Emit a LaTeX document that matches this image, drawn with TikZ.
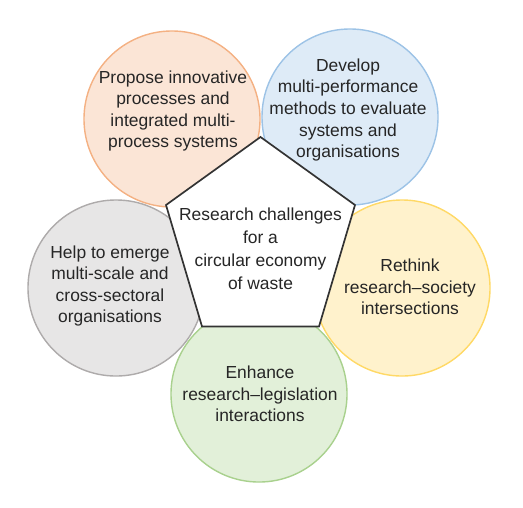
\documentclass[tikz,border=0pt]{standalone}
\usepackage{fontspec}
\setmainfont{Liberation Sans}
\definecolor{orangefill}{HTML}{FBE5D6}
\definecolor{orangeline}{HTML}{F4B183}
\definecolor{bluefill}{HTML}{DEEBF7}
\definecolor{blueline}{HTML}{9DC3E6}
\definecolor{grayfill}{HTML}{E7E6E6}
\definecolor{grayline}{HTML}{AEABAB}
\definecolor{yellowfill}{HTML}{FFF2CC}
\definecolor{yellowline}{HTML}{FFD966}
\definecolor{greenfill}{HTML}{E2F0D9}
\definecolor{greenline}{HTML}{A9D18E}
\definecolor{textgray}{HTML}{262626}
\definecolor{hubline}{HTML}{333333}
\begin{document}
\begin{tikzpicture}[x=0.025cm, y=-0.025cm,
    goal/.style={circle, draw, line width=1pt, minimum size=4.4cm, inner sep=0pt},
    goaltext/.style={align=center, inner sep=0pt, text=textgray, font=\fontsize{12.4}{15.3}\selectfont},
    hubtext/.style={align=center, inner sep=0pt, text=textgray, font=\fontsize{12.4}{16.4}\selectfont}]
      \useasboundingbox (0, 0) rectangle (523, 507);

      % Circles
      \node[goal, fill=greenfill, draw=greenline] at (259, 394) (enhance) {};
      \node[goal, fill=grayfill, draw=grayline] at (116, 288) (help) {};
      \node[goal, fill=yellowfill, draw=yellowline] at (402, 288) (rethink) {};
      \node[goal, fill=orangefill, draw=orangeline] at (172, 119) (propose) {};
      \node[goal, fill=bluefill, draw=blueline] at (350, 117) (develop) {};

      % Pentagon
      \coordinate (top) at (260.5, 137);
      \coordinate (ur) at (355, 205);
      \coordinate (lr) at (319, 326.5);
      \coordinate (ll) at (202, 326.5);
      \coordinate (ul) at (166, 205);
      \draw[hubline, line width=1.2pt, fill=white, line join=miter] (top) -- (ur) -- (lr) -- (ll) -- (ul) -- cycle;

      % Texts
      \node[goaltext] at (173, 111) (proposetext) {Propose innovative\\processes and\\integrated multi-\\process systems};
      \node[goaltext] at (348, 110) (developtext) {Develop\\multi-performance\\methods to evaluate\\systems and\\organisations};
      \node[goaltext] at (110, 286) (helptext) {Help to emerge\\multi-scale and\\cross-sectoral\\organisations};
      \node[goaltext] at (410, 287) (rethinktext) {Rethink\\research--society\\intersections};
      \node[goaltext] at (260, 394) (enhancetext) {Enhance\\research--legislation\\interactions};
      \node[hubtext] at (260.5, 249) (hub) {Research challenges\\for a\\circular economy\\of waste};
    \end{tikzpicture}
\end{document}
